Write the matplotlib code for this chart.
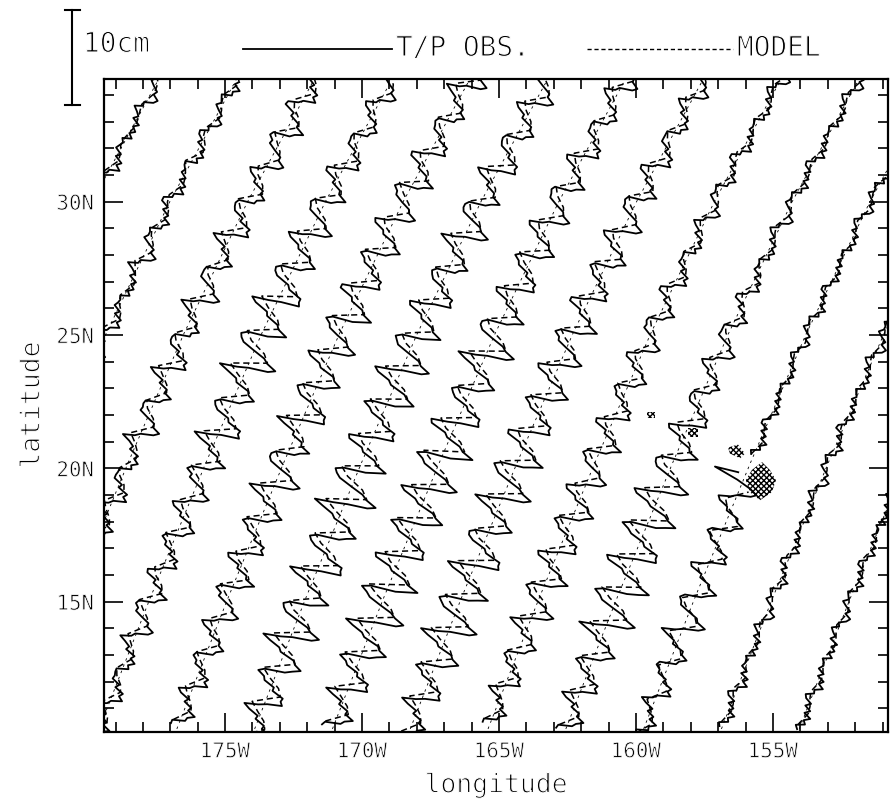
import numpy as np
import matplotlib
matplotlib.use("Agg")
import matplotlib.pyplot as plt
from matplotlib import patheffects
from matplotlib.lines import Line2D
from matplotlib.ticker import MultipleLocator, FixedLocator, FixedFormatter

nan = np.nan

# T/P ascending ground tracks: longitude (deg E) where each crosses 10N
TRACK_LON10 = [171.79, 174.63, 177.47, 180.31, 183.15, 185.99, 188.83,
               191.67, 194.51, 197.35, 200.19, 203.03, 205.87]
# shape of a ground track: eastward drift (deg) relative to its 10N point
SHAPE_LAT = [10, 15, 20, 25, 30, 35]
SHAPE_DLON = [0.0, 1.9, 3.9, 6.0, 8.35, 11.0]

# along-track sea level (mm); obs every 0.125 deg lat, model every 0.25 deg
OBS_STEP = 0.125
MODEL_STEP = 0.25
OBS_START_LAT = [29.7, 23.8, 17.3, 9.8, 10.35, 9.7, 10.25,
                 9.9, 10.4, 10.15, 10.0, 10.3, 10.2]
MODEL_START_LAT = [29.85, 23.95, 17.45, 9.95, 10.5, 9.85, 10.4,
                   10.05, 10.55, 10.3, 10.0, 10.45, 10.35]

OBS_T0 = [-3, -5, 4, 2, 8, 0, 4, -3, 2, -6, -9, -1, 0, 10, 4, 8, -1, 3, -5, -3,
          -1, -4, 5, 0, 5, 0, 5, -4, 0, -4, -9, -1, -2, 7, 10, 3, 5, -1, -6, -3,
          -3, -5, 4]
MODEL_T0 = [-3, 0, 3, 2, -1, -4, 0, 4, 2, -2, -2, 0, 2, 1, -1, -3, 0, 3, 2, -1, -3, 0]

OBS_T1 = [-4, -6, 4, 3, 9, 1, 4, -3, 2, -7, -10, -1, 1, 10, 5, 8, -1, 3, -5, -3,
          -2, -4, 5, 1, 6, 1, 5, -4, 0, -5, -12, -2, -1, 9, 13, 5, 7, -1, -8, -5,
          -5, -7, 4, 4, 10, 2, 5, -3, 1, -8, -8, 0, 0, 9, 3, 7, -2, 3, -4, -2,
          -5, -6, 6, 3, 9, 3, 6, -4, -1, -7, -8, 0, -2, 6, 9, 2, 5, -1, -6, -2,
          -4, -6, 4, 3, 9, 1, 4]
MODEL_T1 = [-4, 0, 4, 2, -2, -6, 0, 6, 4, -2, -4, 0, 4, 2, -2, -6, 0, 6, 4, -2,
            -5, 0, 5, 3, -2, -4, 0, 4, 2, -2, -6, 0, 6, 4, -2, -4, 0, 4, 2, -2,
            -4, 0, 4, 2]

OBS_T2 = [-8, -8, 5, 6, 13, 4, 6, -3, 0, -10, -14, -3, 1, 14, 9, 12, 1, 3, -7, -7,
          -6, -6, 6, 4, 10, 4, 7, -4, -2, -8, -17, -5, 0, 13, 18, 9, 9, -1, -10, -9,
          -10, -9, 5, 8, 15, 6, 7, -3, -1, -12, -18, -5, 2, 17, 13, 15, 2, 3, -8, -10,
          -10, -8, 7, 7, 14, 7, 8, -4, -3, -11, -18, -6, 0, 14, 19, 10, 9, -1, -10, -10,
          -10, -9, 5, 8, 15, 6, 7, -3, -1, -12, -18, -5, 2, 17, 13, 15, 2, 3, -8, -10,
          -11, -9, 7, 8, 15, 8, 9, -4, -4, -12, -15, -4, -1, 12, 16, 8, 8, -1, -9, -8,
          -13, -11, 6, 10, 18, 8, 8, -3, -2, -14, -13, -3, 1, 13, 8, 11, 0, 3, -6, -6,
          -7, -7, 6]
MODEL_T2 = [-7, 0, 7, 4, -3, -8, 0, 8, 5, -3, -6, 0, 6, 4, -2, -10, 0, 10, 6, -4,
            -8, 0, 8, 5, -3, -11, 0, 11, 7, -4, -9, 0, 9, 5, -4, -10, 0, 10, 6, -4,
            -8, 0, 8, 5, -3, -11, 0, 11, 7, -4, -10, 0, 10, 6, -4, -8, 0, 8, 5, -3,
            -10, 0, 10, 6, -4, -8, 0, 8, 5, -3, -7, 0]

OBS_T3 = [-6, -7, 5, 4, 11, 2, 5, -3, 1, -8, -12, -2, 1, 12, 7, 10, 0, 3, -6, -5,
          -6, -6, 6, 4, 10, 4, 7, -4, -2, -8, -15, -4, -1, 12, 16, 8, 8, -1, -9, -8,
          -12, -10, 6, 9, 17, 7, 8, -3, -2, -13, -14, -3, 1, 14, 9, 12, 1, 3, -7, -7,
          -13, -10, 7, 10, 17, 10, 9, -4, -4, -14, -17, -5, 0, 13, 18, 9, 9, -1, -10, -9,
          -16, -12, 7, 12, 21, 10, 9, -3, -3, -16, -24, -8, 3, 22, 19, 20, 5, 3, -11, -15,
          -17, -12, 8, 13, 21, 13, 11, -4, -6, -17, -28, -10, 2, 22, 29, 18, 13, -1, -14, -18,
          -20, -14, 7, 16, 25, 14, 11, -3, -5, -20, -26, -9, 4, 23, 21, 21, 6, 3, -12, -16,
          -17, -12, 8, 13, 21, 13, 11, -4, -6, -17, -21, -7, 1, 16, 22, 12, 10, -1, -11, -12,
          -14, -11, 6, 11, 19, 9, 8, -3, -2, -15, -16, -4, 2, 15, 11, 13, 2, 3, -8, -8,
          -9, -8, 6, 7, 13, 7, 8, -4, -3, -11, -13, -3, -1, 10, 14, 6, 7, -1, -8, -6]
MODEL_T3 = [-6, 0, 6, 4, -2, -7, 0, 7, 4, -3, -6, 0, 6, 4, -2, -8, 0, 8, 5, -3,
            -10, 0, 10, 6, -4, -8, 0, 8, 5, -3, -11, 0, 11, 7, -4, -10, 0, 10, 6, -4,
            -13, 0, 13, 8, -5, -15, 0, 15, 9, -6, -14, 0, 14, 8, -6, -18, 0, 18, 11, -7,
            -15, 0, 15, 9, -6, -17, 0, 17, 10, -7, -14, 0, 14, 8, -6, -13, 0, 13, 8, -5,
            -11, 0, 11, 7, -4, -10, 0, 10, 6, -4, -8, 0, 8, 5, -3, -7, 0, 7, 4, -3]

OBS_T4 = [-8, -8, 5, 6, 13, 4, 6, -3, 0, -10, -14, -3, 1, 14, 9, 12, 1, 3, -7, -7,
          -12, -10, 7, 9, 16, 9, 9, -4, -4, -13, -17, -5, 0, 13, 18, 9, 9, -1, -10, -9,
          -16, -12, 7, 12, 21, 10, 9, -3, -3, -16, -18, -5, 2, 17, 13, 15, 2, 3, -8, -10,
          -17, -12, 8, 13, 21, 13, 11, -4, -6, -17, -25, -9, 1, 20, 26, 16, 12, -1, -13, -16,
          -16, -12, 7, 12, 21, 10, 9, -3, -3, -16, -26, -9, 4, 23, 21, 21, 6, 3, -12, -16,
          -19, -13, 8, 15, 23, 15, 12, -4, -7, -19, -23, -8, 1, 18, 24, 14, 11, -1, -12, -14,
          -20, -14, 7, 16, 25, 14, 11, -3, -5, -20, -20, -6, 3, 18, 15, 16, 3, 3, -9, -11,
          -17, -12, 8, 13, 21, 13, 11, -4, -6, -17, -19, -6, 0, 15, 20, 11, 9, -1, -10, -11,
          -16, -12, 7, 12, 21, 10, 9, -3, -3, -16, -17, -5, 2, 16, 12, 14, 2, 3, -8, -9,
          -11, -9, 7, 8, 15, 8, 9, -4, -4, -12, -19, -6, 0, 15, 20, 11, 9, -1, -10, -11]
MODEL_T4 = [-7, 0, 7, 4, -3, -8, 0, 8, 5, -3, -10, 0, 10, 6, -4, -10, 0, 10, 6, -4,
            -13, 0, 13, 8, -5, -11, 0, 11, 7, -4, -14, 0, 14, 8, -6, -15, 0, 15, 9, -6,
            -13, 0, 13, 8, -5, -17, 0, 17, 10, -7, -15, 0, 15, 9, -6, -14, 0, 14, 8, -6,
            -15, 0, 15, 9, -6, -13, 0, 13, 8, -5, -14, 0, 14, 8, -6, -11, 0, 11, 7, -4,
            -13, 0, 13, 8, -5, -10, 0, 10, 6, -4, -10, 0, 10, 6, -4, -11, 0, 11, 7, -4]

OBS_T5 = [-12, -10, 6, 9, 17, 7, 8, -3, -2, -13, -20, -6, 3, 18, 15, 16, 3, 3, -9, -11,
          -19, -13, 8, 15, 23, 15, 12, -4, -7, -19, -28, -10, 2, 22, 29, 18, 13, -1, -14, -18,
          -20, -14, 7, 16, 25, 14, 11, -3, -5, -20, -28, -10, 4, 25, 23, 23, 6, 3, -12, -18,
          -21, -14, 9, 16, 25, 16, 13, -4, -8, -20, -31, -12, 3, 24, 32, 20, 14, -1, -15, -20,
          -23, -15, 8, 18, 28, 16, 12, -3, -6, -22, -24, -8, 3, 22, 19, 20, 5, 3, -11, -15,
          -23, -15, 9, 18, 27, 18, 13, -4, -8, -22, -27, -10, 2, 21, 28, 17, 13, -1, -14, -17,
          -20, -14, 7, 16, 25, 14, 11, -3, -5, -20, -22, -7, 3, 20, 17, 18, 4, 3, -10, -13,
          -15, -11, 8, 11, 19, 11, 10, -4, -5, -15, -23, -8, 1, 18, 24, 14, 11, -1, -12, -14,
          -14, -11, 6, 11, 19, 9, 8, -3, -2, -15, -20, -6, 3, 18, 15, 16, 3, 3, -9, -11,
          -12, -10, 7, 9, 16, 9, 9, -4, -4, -13, -17, -5, 0, 13, 18, 9, 9, -1, -10, -9]
MODEL_T5 = [-10, 0, 10, 6, -4, -13, 0, 13, 8, -5, -15, 0, 15, 9, -6, -18, 0, 18, 11, -7,
            -15, 0, 15, 9, -6, -18, 0, 18, 11, -7, -17, 0, 17, 10, -7, -20, 0, 20, 12, -8,
            -18, 0, 18, 11, -7, -15, 0, 15, 9, -6, -18, 0, 18, 11, -7, -17, 0, 17, 10, -7,
            -15, 0, 15, 9, -6, -14, 0, 14, 8, -6, -13, 0, 13, 8, -5, -14, 0, 14, 8, -6,
            -11, 0, 11, 7, -4, -13, 0, 13, 8, -5, -10, 0, 10, 6, -4, -10, 0, 10, 6, -4]

OBS_T6 = [-12, -10, 6, 9, 17, 7, 8, -3, -2, -13, -22, -7, 3, 20, 17, 18, 4, 3, -10, -13,
          -21, -14, 9, 16, 25, 16, 13, -4, -8, -20, -29, -11, 2, 23, 30, 19, 13, -1, -14, -19,
          -26, -17, 9, 20, 31, 18, 13, -3, -7, -24, -26, -9, 4, 23, 21, 21, 6, 3, -12, -16,
          -24, -16, 9, 19, 28, 19, 14, -4, -9, -23, -28, -10, 2, 22, 29, 18, 13, -1, -14, -18,
          -26, -17, 9, 20, 31, 18, 13, -3, -7, -24, -26, -9, 4, 23, 21, 21, 6, 3, -12, -16,
          -19, -13, 8, 15, 23, 15, 12, -4, -7, -19, -28, -10, 2, 22, 29, 18, 13, -1, -14, -18,
          -18, -13, 7, 14, 23, 12, 10, -3, -4, -18, -20, -6, 3, 18, 15, 16, 3, 3, -9, -11,
          -17, -12, 8, 13, 21, 13, 11, -4, -6, -17, -19, -6, 0, 15, 20, 11, 9, -1, -10, -11,
          -13, -11, 6, 10, 18, 8, 8, -3, -2, -14, -16, -4, 2, 15, 11, 13, 2, 3, -8, -8,
          -9, -8, 6, 7, 13, 7, 8, -4, -3, -11, -15, -4, -1, 12, 16, 8, 8, -1, -9, -8]
MODEL_T6 = [-10, 0, 10, 6, -4, -14, 0, 14, 8, -6, -17, 0, 17, 10, -7, -18, 0, 18, 11, -7,
            -20, 0, 20, 12, -8, -17, 0, 17, 10, -7, -19, 0, 19, 11, -8, -18, 0, 18, 11, -7,
            -20, 0, 20, 12, -8, -17, 0, 17, 10, -7, -15, 0, 15, 9, -6, -18, 0, 18, 11, -7,
            -14, 0, 14, 8, -6, -13, 0, 13, 8, -5, -14, 0, 14, 8, -6, -11, 0, 11, 7, -4,
            -10, 0, 10, 6, -4, -10, 0, 10, 6, -4, -8, 0, 8, 5, -3, -8, 0, 8, 5, -3]

OBS_T7 = [-10, -9, 5, 8, 15, 6, 7, -3, -1, -12, -20, -6, 3, 18, 15, 16, 3, 3, -9, -11,
          -19, -13, 8, 15, 23, 15, 12, -4, -7, -19, -28, -10, 2, 22, 29, 18, 13, -1, -14, -18,
          -22, -15, 8, 17, 27, 15, 12, -3, -6, -21, -28, -10, 4, 25, 23, 23, 6, 3, -12, -18,
          -19, -13, 8, 15, 23, 15, 12, -4, -7, -19, -28, -10, 2, 22, 29, 18, 13, -1, -14, -18,
          -22, -15, 8, 17, 27, 15, 12, -3, -6, -21, -22, -7, 3, 20, 17, 18, 4, 3, -10, -13,
          -19, -13, 8, 15, 23, 15, 12, -4, -7, -19, -21, -7, 1, 16, 22, 12, 10, -1, -11, -12,
          -18, -13, 7, 14, 23, 12, 10, -3, -4, -18, -18, -5, 2, 17, 13, 15, 2, 3, -8, -10,
          -15, -11, 8, 11, 19, 11, 10, -4, -5, -15, -18, -6, 0, 14, 19, 10, 9, -1, -10, -10,
          -12, -10, 6, 9, 17, 7, 8, -3, -2, -13, -14, -3, 1, 14, 9, 12, 1, 3, -7, -7,
          -7, -7, 6, 5, 11, 5, 7, -4, -2, -9, -13, -3, -1, 10, 14, 6, 7, -1, -8, -6]
MODEL_T7 = [-8, 0, 8, 5, -3, -13, 0, 13, 8, -5, -15, 0, 15, 9, -6, -18, 0, 18, 11, -7,
            -17, 0, 17, 10, -7, -18, 0, 18, 11, -7, -15, 0, 15, 9, -6, -18, 0, 18, 11, -7,
            -17, 0, 17, 10, -7, -14, 0, 14, 8, -6, -15, 0, 15, 9, -6, -13, 0, 13, 8, -5,
            -14, 0, 14, 8, -6, -11, 0, 11, 7, -4, -13, 0, 13, 8, -5, -10, 0, 10, 6, -4,
            -10, 0, 10, 6, -4, -8, 0, 8, 5, -3, -7, 0, 7, 4, -3, -7, 0, 7, 4, -3]

OBS_T8 = [-8, -8, 5, 6, 13, 4, 6, -3, 0, -10, -16, -4, 2, 15, 11, 13, 2, 3, -8, -8,
          -13, -10, 7, 10, 17, 10, 9, -4, -4, -14, -21, -7, 1, 16, 22, 12, 10, -1, -11, -12,
          -18, -13, 7, 14, 23, 12, 10, -3, -4, -18, -20, -6, 3, 18, 15, 16, 3, 3, -9, -11,
          -17, -12, 8, 13, 21, 13, 11, -4, -6, -17, -19, -6, 0, 15, 20, 11, 9, -1, -10, -11,
          -16, -12, 7, 12, 21, 10, 9, -3, -3, -16, -17, -5, 2, 16, 12, 14, 2, 3, -8, -9,
          -13, -10, 7, 10, 17, 10, 9, -4, -4, -14, -15, -4, -1, 12, 16, 8, 8, -1, -9, -8,
          -10, -9, 5, 8, 15, 6, 7, -3, -1, -12, -12, -2, 1, 12, 7, 10, 0, 3, -6, -5,
          -5, -6, 6, 3, 9, 3, 6, -4, -1, -7, -11, -2, -1, 8, 12, 4, 6, -1, -7, -4,
          -5, -7, 4, 4, 10, 2, 5, -3, 1, -8, -8, 0, 0, 9, 3, 7, -2, 3, -4, -2,
          -3, -5, 5, 2, 7, 2, 5, -4, 0, -6, -9, -1, -2, 7, 10, 3, 5, -1, -6, -3]
MODEL_T8 = [-7, 0, 7, 4, -3, -10, 0, 10, 6, -4, -11, 0, 11, 7, -4, -13, 0, 13, 8, -5,
            -14, 0, 14, 8, -6, -13, 0, 13, 8, -5, -14, 0, 14, 8, -6, -11, 0, 11, 7, -4,
            -13, 0, 13, 8, -5, -10, 0, 10, 6, -4, -11, 0, 11, 7, -4, -8, 0, 8, 5, -3,
            -8, 0, 8, 5, -3, -7, 0, 7, 4, -3, -6, 0, 6, 4, -2, -6, 0, 6, 4, -2,
            -5, 0, 5, 3, -2, -4, 0, 4, 2, -2, -4, 0, 4, 2, -2, -4, 0, 4, 2, -2]

OBS_T9 = [-10, -9, 5, 8, 15, 6, 7, -3, -1, -12, -18, -5, 2, 17, 13, 15, 2, 3, -8, -10,
          -17, -12, 8, 13, 21, 13, 11, -4, -6, -17, -28, -10, 2, 22, 29, 18, 13, -1, -14, -18,
          -25, -17, 8, 20, 30, 18, 13, -3, -7, -24, -27, -9, 4, 24, 22, 22, 6, 3, -12, -17,
          -25, -16, 10, 19, 29, 19, 14, -4, -9, -23, -27, -10, 2, 21, 28, 17, 13, -1, -14, -17,
          -18, -13, 7, 14, 23, 12, 10, -3, -4, -18, -20, -6, 3, 18, 15, 16, 3, 3, -9, -11,
          -11, -9, 7, 8, 15, 8, 9, -4, -4, -12, -15, -4, -1, 12, 16, 8, 8, -1, -9, -8,
          -8, -8, 5, 6, 13, 4, 6, -3, 0, -10, -10, -1, 1, 10, 5, 8, -1, 3, -5, -3,
          -3, -5, 5, 2, 7, 2, 5, -4, 0, -6, -9, -1, -2, 7, 10, 3, 5, -1, -6, -3,
          -3, -5, 4, 2, 8, 0, 4, -3, 2, -6, -7, 1, 0, 8, 2, 6, -2, 3, -4, -1,
          -2, -4, 5, 1, 6, 1, 5, -4, 0, -5, -8, 0, -2, 6, 9, 2, 5, -1, -6, -2]
MODEL_T9 = [-8, 0, 8, 5, -3, -11, 0, 11, 7, -4, -14, 0, 14, 8, -6, -18, 0, 18, 11, -7,
            -19, 0, 19, 11, -8, -18, 0, 18, 11, -7, -20, 0, 20, 12, -8, -17, 0, 17, 10, -7,
            -14, 0, 14, 8, -6, -13, 0, 13, 8, -5, -10, 0, 10, 6, -4, -8, 0, 8, 5, -3,
            -7, 0, 7, 4, -3, -6, 0, 6, 4, -2, -4, 0, 4, 2, -2, -4, 0, 4, 2, -2,
            -3, 0, 3, 2, -1, -3, 0, 3, 2, -1, -3, 0, 3, 2, -1, -3, 0, 3, 2, -1]

OBS_T10 = [-6, -7, 5, 4, 11, 2, 5, -3, 1, -8, -14, -3, 1, 14, 9, 12, 1, 3, -7, -7,
           -12, -10, 7, 9, 16, 9, 9, -4, -4, -13, -21, -7, 1, 16, 22, 12, 10, -1, -11, -12,
           -15, -11, 6, 12, 20, 10, 9, -3, -3, -16, -18, -5, 2, 17, 13, 15, 2, 3, -8, -10,
           -15, -11, 8, 11, 19, 11, 10, -4, -5, -15, -18, -6, 0, 14, 19, 10,
           -6, -33, -8, nan, nan, nan, nan, nan,
           -3, -5, 4, 2, 8, 0, 4, -3, 2, -6, -6, 1, 0, 7, 1, 5, -2, 3, -4, 0,
           -2, -4, 5, 1, 6, 1, 5, -4, 0, -5, -7, 0, -2, 5, 8, 1, 5, -1, -6, -1,
           -3, -5, 4, 2, 8, 0, 4, -3, 2, -6, -6, 1, 0, 7, 1, 5, -2, 3, -4, 0,
           -2, -4, 5, 1, 6, 1, 5, -4, 0, -5, -7, 0, -2, 5, 8, 1, 5, -1, -6, -1,
           -2, -5, 4, 1, 7]
MODEL_T10 = [-6, 0, 6, 4, -2, -8, 0, 8, 5, -3, -10, 0, 10, 6, -4, -13, 0, 13, 8, -5,
             -12, 0, 12, 7, -5, -11, 0, 11, 7, -4, -13, 0, 13, 8, -5, -10, 0, 10,
             nan, nan, nan, nan,
             -3, 0, 3, 2, -1, -3, 0, 3, 2, -1, -3, 0, 3, 2, -1, -3, 0, 3, 2, -1,
             -3, 0, 3, 2, -1, -3, 0, 3, 2, -1, -3, 0, 3, 2, -1, -3, 0, 3, 2, -1,
             -3, 0, 3]

OBS_T11 = [-3, -5, 4, 2, 8, 0, 4, -3, 2, -6, -8, 0, 0, 9, 3, 7, -2, 3, -4, -2,
           -1, -4, 5, 0, 5, 0, 5, -4, 0, -4, -8, 0, -2, 6, 9, 2, 5, -1, -6, -2,
           -4, -6, 4, 3, 9, 1, 4, -3, 2, -7, -7, 1, 0, 8, 2, 6, -2, 3, -4, -1,
           -1, -4, 5, 0, 5, 0, 5, -4, 0, -4, -8, 0, -2, 6, 9, 2, 5, -1, -6, -2,
           -4, -6, 4, 3, 9, 1, 4, -3, 2, -7, -6, 1, 0, 7, 1, 5, -2, 3, -4, 0,
           -2, -4, 5, 1, 6, 1, 5, -4, 0, -5, -8, 0, -2, 6, 9, 2, 5, -1, -6, -2,
           -2, -5, 4, 1, 7, -1, 4, -3, 2]
MODEL_T11 = [-3, 0, 3, 2, -1, -4, 0, 4, 2, -2, -3, 0, 3, 2, -1, -3, 0, 3, 2, -1,
             -4, 0, 4, 2, -2, -3, 0, 3, 2, -1, -3, 0, 3, 2, -1, -3, 0, 3, 2, -1,
             -4, 0, 4, 2, -2, -3, 0, 3, 2, -1, -3, 0, 3, 2, -1, -3, 0, 3, 2, -1,
             -3, 0, 3, 2, -1]

OBS_T12 = [-2, -5, 4, 1, 7, -1, 4, -3, 2, -5, -7, 1, 0, 8, 2, 6, -2, 3, -4, -1,
           -1, -4, 5, 0, 5, 0, 5, -4, 0, -4, -7, 0, -2, 5, 8, 1, 5, -1, -6, -1,
           -3, -5, 4, 2, 8, 0, 4, -3, 2, -6, -6, 1, 0, 7, 1, 5, -2, 3, -4, 0,
           0, -4, 5, -1, 4, -1, 4, -4, 1, -3, -7, 0, -2, 5, 8, 1, 5]
MODEL_T12 = [-3, 0, 3, 2, -1, -3, 0, 3, 2, -1, -3, 0, 3, 2, -1, -3, 0, 3, 2, -1,
             -3, 0, 3, 2, -1, -3, 0, 3, 2, -1, -2, 0, 2, 1, -1, -3, 0, 3, 2]

OBS = [OBS_T0, OBS_T1, OBS_T2, OBS_T3, OBS_T4, OBS_T5, OBS_T6,
       OBS_T7, OBS_T8, OBS_T9, OBS_T10, OBS_T11, OBS_T12]
MODEL = [MODEL_T0, MODEL_T1, MODEL_T2, MODEL_T3, MODEL_T4, MODEL_T5, MODEL_T6,
         MODEL_T7, MODEL_T8, MODEL_T9, MODEL_T10, MODEL_T11, MODEL_T12]

# Hawaiian islands (lon E, lat N)
ISLANDS = [
    ([204.23, 204.60, 204.89, 205.11, 204.96, 204.53, 204.16, 204.01],
     [19.94, 20.24, 19.94, 19.56, 19.11, 18.81, 19.11, 19.56]),
    ([203.36, 203.72, 203.98, 203.80, 203.43], [20.78, 20.90, 20.56, 20.38, 20.56]),
    ([201.90, 202.26, 202.26, 201.90], [21.51, 21.51, 21.17, 21.17]),
    ([200.40, 200.69, 200.69, 200.40], [22.11, 22.11, 21.89, 21.89]),
]

X_TICKS = [185, 190, 195, 200, 205]
X_LABELS = ["175W", "170W", "165W", "160W", "155W"]
Y_TICKS = [15, 20, 25, 30]
Y_LABELS = ["15N", "20N", "25N", "30N"]

CM_PX = 9.5  # plotted length of 1 cm of sea level, in pixels

plt.rcParams["font.family"] = "DejaVu Sans Mono"
plt.rcParams["hatch.linewidth"] = 1.0
THIN = [patheffects.Stroke(linewidth=0.8, foreground="white")]
THIN_S = [patheffects.Stroke(linewidth=0.55, foreground="white")]

W, H = 890, 801
fig = plt.figure(figsize=(W / 100, H / 100), dpi=100)
ax = fig.add_axes([104 / W, 1 - 731.7 / H, 784 / W, 653.2 / H])
ax.set_xlim(180.58, 209.2)
ax.set_ylim(10.13, 34.62)

bb = ax.get_window_extent()
px_lon = bb.width / (209.2 - 180.58)
px_lat = bb.height / (34.62 - 10.13)


def track_lon(lon10, lat):
    return lon10 + np.interp(lat, SHAPE_LAT, SHAPE_DLON)


def offset_curve(lon10, lat, vals_mm):
    # sea level drawn perpendicular to the ground track
    slope = np.gradient(track_lon(lon10, lat), lat)
    tx = slope * px_lon
    ty = np.full_like(lat, px_lat)
    nrm = np.hypot(tx, ty)
    nx, ny = ty / nrm, -tx / nrm
    off = np.asarray(vals_mm, float) * CM_PX / 10.0
    return track_lon(lon10, lat) + off * nx / px_lon, lat + off * ny / px_lat


for i, lon10 in enumerate(TRACK_LON10):
    full = np.linspace(9.5, 35.5, 200)
    ax.plot(track_lon(lon10, full), full, color="k", lw=0.6, dashes=(3, 5))
    mod = MODEL[i]
    lat_m = MODEL_START_LAT[i] + MODEL_STEP * np.arange(len(mod))
    xm, ym = offset_curve(lon10, lat_m, mod)
    ax.plot(xm, ym, color="k", lw=1.1, dashes=(4, 2.5))
    obs = OBS[i]
    lat_o = OBS_START_LAT[i] + OBS_STEP * np.arange(len(obs))
    xo, yo = offset_curve(lon10, lat_o, obs)
    ax.plot(xo, yo, color="k", lw=1.3)

for lons, lats in ISLANDS:
    ax.fill(lons, lats, facecolor="white", edgecolor="black", hatch="xxxxxx", lw=0)

ax.xaxis.set_major_locator(FixedLocator(X_TICKS))
ax.xaxis.set_major_formatter(FixedFormatter(X_LABELS))
ax.yaxis.set_major_locator(FixedLocator(Y_TICKS))
ax.yaxis.set_major_formatter(FixedFormatter(Y_LABELS))
ax.xaxis.set_minor_locator(MultipleLocator(1))
ax.yaxis.set_minor_locator(MultipleLocator(1))
ax.tick_params(which="both", direction="in", top=True, right=True, width=1.2)
ax.tick_params(which="major", length=14, labelsize=15, pad=7)
ax.tick_params(which="minor", length=7)
for s in ax.spines.values():
    s.set_linewidth(1.6)

ax.set_xlabel("longitude", fontsize=19, labelpad=8, path_effects=THIN)
ax.set_ylabel("latitude", fontsize=19, labelpad=8, path_effects=THIN)


# scale bar and legend above the frame
def fx(px):
    return px / W


def fy(py):
    return 1 - py / H


bar_top = 10
bar_bot = bar_top + 10 * CM_PX
fig.add_artist(Line2D([fx(72), fx(72)], [fy(bar_top), fy(bar_bot)], color="k", lw=1.5))
for yb in (bar_top, bar_bot):
    fig.add_artist(Line2D([fx(65), fx(80)], [fy(yb), fy(yb)], color="k", lw=1.5))
fig.text(fx(83), fy(44), "10cm", fontsize=20, va="center", ha="left", path_effects=THIN)

fig.add_artist(Line2D([fx(243), fx(392)], [fy(49), fy(49)], color="k", lw=1.3))
fig.text(fx(396), fy(48), "T/P OBS.", fontsize=20, va="center", ha="left",
         path_effects=THIN)
fig.add_artist(Line2D([fx(587), fx(733)], [fy(49), fy(49)], color="k", lw=1.0,
                      dashes=(3, 2)))
fig.text(fx(737), fy(48), "MODEL", fontsize=20, va="center", ha="left", path_effects=THIN)

fig.canvas.draw()
for lbl in ax.get_xticklabels() + ax.get_yticklabels():
    lbl.set_path_effects(THIN_S)

fig.savefig("out.png", dpi=100)
